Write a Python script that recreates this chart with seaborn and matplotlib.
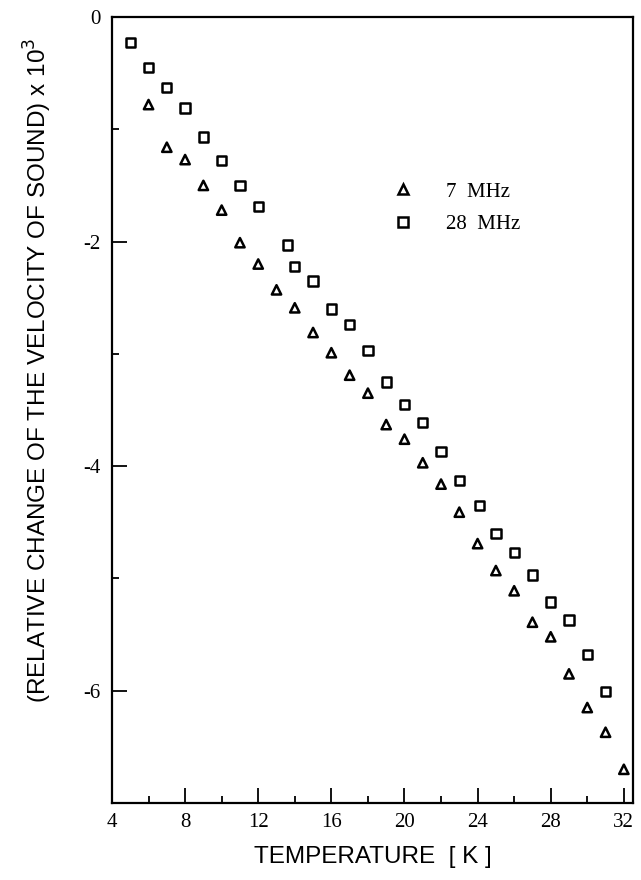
import matplotlib
matplotlib.use("Agg")
import matplotlib.pyplot as plt
import matplotlib.ticker as mticker
import seaborn as sns
import pandas as pd

# temperature [K] and relative change of sound velocity (x 10^3)
temp_7mhz = [6, 7, 8, 9, 10, 11, 12, 13, 14, 15, 16, 17, 18, 19, 20, 21, 22,
             23, 24, 25, 26, 27, 28, 29, 30, 31, 32]
dv_7mhz = [-0.78, -1.16, -1.27, -1.50, -1.72, -2.01, -2.20, -2.43, -2.59,
           -2.81, -2.99, -3.19, -3.35, -3.63, -3.76, -3.97, -4.16, -4.41,
           -4.69, -4.93, -5.11, -5.39, -5.52, -5.85, -6.15, -6.37, -6.70]

temp_28mhz = [5, 6, 7, 8, 9, 10, 11, 12, 13.6, 14, 15, 16, 17, 18, 19, 20,
              21, 22, 23, 24.1, 25, 26, 27, 28, 29, 30, 31]
dv_28mhz = [-0.23, -0.45, -0.63, -0.81, -1.07, -1.28, -1.50, -1.69, -2.03,
            -2.22, -2.35, -2.60, -2.74, -2.97, -3.25, -3.45, -3.61, -3.87,
            -4.13, -4.35, -4.60, -4.77, -4.97, -5.21, -5.37, -5.68, -6.01]

x_ticks = [4, 8, 12, 16, 20, 24, 28, 32]
y_ticks = [0, -2, -4, -6]

df = pd.concat([
    pd.DataFrame({"T": temp_7mhz, "dv": dv_7mhz, "freq": "7  MHz"}),
    pd.DataFrame({"T": temp_28mhz, "dv": dv_28mhz, "freq": "28  MHz"}),
])

sns.set_style("ticks")
plt.rcParams["font.family"] = ["Liberation Serif", "DejaVu Serif"]
plt.rcParams["axes.unicode_minus"] = False
plt.rcParams["text.color"] = "black"
plt.rcParams["axes.labelcolor"] = "black"

fig = plt.figure(figsize=(6.41, 8.80), dpi=100)
ax = fig.add_axes([0.1747, 0.0875, 0.8128, 0.8932])

sns.scatterplot(data=df, x="T", y="dv", style="freq",
                markers={"7  MHz": "^", "28  MHz": "s"},
                s=45, facecolor="none", edgecolor="black", linewidth=1.8,
                ax=ax)

ax.set_xlim(4, 32.5)
ax.set_ylim(-7, 0)
ax.set_xticks(x_ticks)
ax.set_yticks(y_ticks)
ax.xaxis.set_minor_locator(mticker.MultipleLocator(2))
ax.yaxis.set_minor_locator(mticker.MultipleLocator(1))
ax.tick_params(which="both", direction="in", colors="black", labelsize=15)
ax.tick_params(which="major", length=11, width=1.3)
ax.tick_params(which="minor", length=5, width=1.3)
ax.tick_params(axis="y", pad=8)
ax.tick_params(axis="x", pad=7)
for sp in ax.spines.values():
    sp.set_linewidth(1.6)
    sp.set_color("black")

ax.set_xlabel("TEMPERATURE  [ K ]", family=["Liberation Sans"], fontsize=17.5,
              labelpad=10)
ax.set_ylabel(r"(RELATIVE CHANGE OF THE VELOCITY OF SOUND) x 10$^3$",
              family=["Liberation Sans"], fontsize=17.5)
ax.yaxis.set_label_coords(-0.112, 0.551)

leg = ax.legend(loc="center left", bbox_to_anchor=(0.482, 0.757),
                frameon=False, fontsize=15, handletextpad=1.1,
                labelspacing=0.6)
for h in leg.legend_handles:
    h.set_markerfacecolor("none")
    h.set_markeredgecolor("black")
    h.set_markeredgewidth(1.8)

fig.savefig("out.png", dpi=100)
